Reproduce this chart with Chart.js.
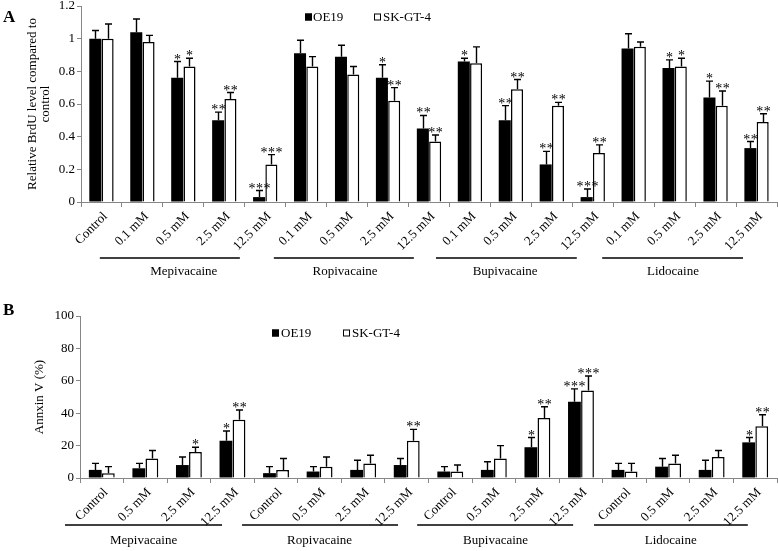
<!DOCTYPE html>
<html><head><meta charset="utf-8">
<script src="https://cdn.jsdelivr.net/npm/chart.js@4/dist/chart.umd.min.js"></script>
<style>
html,body{margin:0;padding:0;background:#fff;}
#wrap{position:relative;width:778px;height:551px;overflow:hidden;}
canvas{position:absolute;left:0;display:block;}
</style></head><body>
<div id="wrap">
<canvas id="cA" width="778" height="300" style="top:0"></canvas>
<canvas id="cB" width="778" height="251" style="top:300px"></canvas>
</div>
<script>
// ---------- Panel A data ----------
const catA = ['Control','0.1 mM','0.5 mM','2.5 mM','12.5 mM','0.1 mM','0.5 mM','2.5 mM','12.5 mM','0.1 mM','0.5 mM','2.5 mM','12.5 mM','0.1 mM','0.5 mM','2.5 mM','12.5 mM'];
const oe19A    = [1.00,1.04,0.76,0.50,0.03,0.91,0.89,0.76,0.45,0.86,0.50,0.23,0.03,0.94,0.82,0.64,0.33];
const oe19AErr = [0.05,0.08,0.10,0.05,0.04,0.08,0.07,0.08,0.08,0.02,0.09,0.08,0.05,0.09,0.05,0.10,0.04];
const skA      = [1.00,0.98,0.83,0.63,0.23,0.83,0.78,0.62,0.37,0.85,0.69,0.59,0.30,0.95,0.83,0.59,0.49];
const skAErr   = [0.09,0.04,0.05,0.04,0.06,0.06,0.05,0.08,0.04,0.10,0.06,0.02,0.05,0.03,0.05,0.09,0.05];
const oe19AStars = ['','','*','**','***','','','*','**','*','**','**','***','','*','*','**'];
const skAStars   = ['','','*','**','***','','','**','**','','**','**','**','','*','**','**'];
const yTicksA = [0,0.2,0.4,0.6,0.8,1,1.2];

// ---------- Panel B data ----------
const catB = ['Control','0.5 mM','2.5 mM','12.5 mM','Control','0.5 mM','2.5 mM','12.5 mM','Control','0.5 mM','2.5 mM','12.5 mM','Control','0.5 mM','2.5 mM','12.5 mM'];
const oe19B    = [5,6,8,23, 3,4,5,8, 4,5,19,47, 5,7,5,22];
const oe19BErr = [4,3,5,6, 4,3,6,4, 3,5,6,8, 4,5,6,3];
const skB      = [3,12,16,36, 5,7,9,23, 4,12,37,54, 4,9,13,32];
const skBErr   = [4,5,3,6, 7,6,5,7, 4,8,7,9, 5,5,4,7];
const oe19BStars = ['','','','*', '','','','', '','','*','***', '','','','*'];
const skBStars   = ['','','*','**', '','','','**', '','','**','***', '','','','**'];
const yTicksB = [0,20,40,60,80,100];

const seriesNames = ['OE19','SK-GT-4'];
const drugs = ['Mepivacaine','Ropivacaine','Bupivacaine','Lidocaine'];

const SERIF = '"Liberation Serif", "Times New Roman", serif';

// ---------- plugins ----------
const errPlugin = {
  id:'errbars',
  afterDatasetsDraw(chart, args, o){
    const ctx = chart.ctx, ys = chart.scales.y;
    chart.data.datasets.forEach((ds, di) => {
      const meta = chart.getDatasetMeta(di);
      meta.data.forEach((bar, i) => {
        const v = ds.data[i], e = o.errors[di][i];
        const yTop = ys.getPixelForValue(v + e);
        const x = Math.round(bar.x) + 0.5;
        ctx.save();
        ctx.strokeStyle = '#000'; ctx.lineWidth = 1.4;
        ctx.beginPath();
        ctx.moveTo(x, bar.y); ctx.lineTo(x, yTop);
        ctx.moveTo(x - 3.5, yTop); ctx.lineTo(x + 3.5, yTop);
        ctx.stroke();
        const s = o.stars[di][i];
        if (s) {
          ctx.font = '14px ' + SERIF;
          ctx.fillStyle = '#000';
          ctx.textAlign = 'center';
          ctx.textBaseline = 'alphabetic';
          const m = ctx.measureText('*');
          const asc = m.actualBoundingBoxAscent, desc = m.actualBoundingBoxDescent;
          const cy = yTop - 5;
          const by = cy + (asc - desc) / 2;
          const n = s.length;
          for (let k = 0; k < n; k++) {
            ctx.fillText('*', x + (k - (n - 1) / 2) * 7.5, by);
          }
        }
        ctx.restore();
      });
    });
  }
};

const decoPlugin = {
  id:'deco',
  afterDraw(chart, args, o){
    const ctx = chart.ctx, xs = chart.scales.x;
    ctx.save();
    o.groups.forEach(g => {
      const x1 = xs.getPixelForValue(g.from), x2 = xs.getPixelForValue(g.to);
      const xt = xs.getPixelForValue(g.text);
      ctx.strokeStyle = '#000'; ctx.lineWidth = 1.5;
      ctx.beginPath(); ctx.moveTo(x1, o.lineY); ctx.lineTo(x2, o.lineY); ctx.stroke();
      ctx.font = '13px ' + SERIF; ctx.fillStyle = '#000';
      ctx.textAlign = 'center'; ctx.textBaseline = 'middle';
      ctx.fillText(g.label, xt, o.textY);
    });
    chart.data.datasets.forEach((ds, di) => {
      const it = o.legend[di];
      ctx.fillStyle = ds.backgroundColor;
      ctx.fillRect(it.sx, o.legendY - 3.5, 7, 7);
      ctx.strokeStyle = '#000'; ctx.lineWidth = 1;
      ctx.strokeRect(it.sx + 0.5, o.legendY - 3, 6, 6);
      ctx.fillStyle = '#000';
      ctx.font = '13px ' + SERIF; ctx.textAlign = 'left'; ctx.textBaseline = 'middle';
      ctx.fillText(ds.label, it.tx, o.legendY + 0.5);
    });
    ctx.font = 'bold 17px ' + SERIF; ctx.fillStyle = '#000';
    ctx.textAlign = 'left'; ctx.textBaseline = 'alphabetic';
    ctx.fillText(o.letter, 3, o.letterY);
    ctx.restore();
  }
};

function makeChart(id, cats, a, b, aErr, bErr, aStars, bStars, yTicks, cfg){
  const axisColor = '#868686';
  return new Chart(document.getElementById(id), {
    type:'bar',
    data:{
      labels:cats,
      datasets:[
        {label:seriesNames[0], data:a, backgroundColor:'#000', borderColor:'#000', borderWidth:0,
         categoryPercentage:0.6, barPercentage:0.98},
        {label:seriesNames[1], data:b, backgroundColor:'#fff', borderColor:'#000', borderWidth:1.5,
         categoryPercentage:0.6, barPercentage:0.98}
      ]
    },
    options:{
      responsive:false, animation:false, devicePixelRatio:1,
      layout:{padding:{left:0, right:1, top:cfg.padTop, bottom:0}},
      plugins:{
        legend:{display:false}, tooltip:{enabled:false},
        errbars:{errors:[aErr,bErr], stars:[aStars,bStars]},
        deco:cfg.deco
      },
      scales:{
        x:{
          grid:{drawOnChartArea:false, drawTicks:true, tickLength:5, color:axisColor, offset:true},
          border:{color:axisColor, width:1},
          ticks:{autoSkip:false, minRotation:45, maxRotation:45, color:'#000', padding:2, labelOffset:4,
                 font:{family:SERIF, size:13}},
          afterFit(s){ s.height = cfg.xHeight; }
        },
        y:{
          min:yTicks[0], max:yTicks[yTicks.length-1],
          afterBuildTicks(s){ s.ticks = yTicks.map(v => ({value:v})); },
          grid:{drawOnChartArea:false, drawTicks:true, tickLength:4, color:axisColor},
          border:{color:axisColor, width:1},
          ticks:{color:'#000', padding:2, font:{family:SERIF, size:13},
                 callback:(v) => String(+Number(v).toFixed(2))},
          title:{display:true, text:cfg.yTitle, color:'#000', padding:{top:cfg.titlePad, bottom:0},
                 font:{family:SERIF, size:13, lineHeight:1.0}},
          afterFit(s){ s.width = cfg.yWidth; s.paddingTop = 0; s.paddingBottom = 0; }
        }
      }
    },
    plugins:[errPlugin, decoPlugin]
  });
}

makeChart('cA', catA, oe19A, skA, oe19AErr, skAErr, oe19AStars, skAStars, yTicksA, {
  padTop:6, xHeight:98, yWidth:81, titlePad:26,
  yTitle:['Relative BrdU level compared to','control'],
  deco:{
    lineY:258, textY:272, letter:'A', letterY:22, legendY:17,
    legend:[{sx:305, tx:313},{sx:374, tx:383}],
    groups:[
      {label:drugs[0], from:-0.04, to:3.38, text:2.01},
      {label:drugs[1], from:4.21, to:7.63, text:5.95},
      {label:drugs[2], from:8.17, to:11.61, text:9.86},
      {label:drugs[3], from:12.23, to:15.67, text:13.96}
    ]
  }
});

makeChart('cB', catB, oe19B, skB, oe19BErr, skBErr, oe19BStars, skBStars, yTicksB, {
  padTop:16, xHeight:73, yWidth:80, titlePad:33,
  yTitle:'Annxin V (%)',
  deco:{
    lineY:225, textY:241, letter:'B', letterY:15, legendY:33,
    legend:[{sx:272, tx:281},{sx:343, tx:352}],
    groups:[
      {label:drugs[0], from:-0.845, to:2.76, text:0.96},
      {label:drugs[1], from:3.22, to:6.80, text:5.0},
      {label:drugs[2], from:7.24, to:10.82, text:9.04},
      {label:drugs[3], from:11.30, to:14.83, text:13.06}
    ]
  }
});
</script>
</body></html>
